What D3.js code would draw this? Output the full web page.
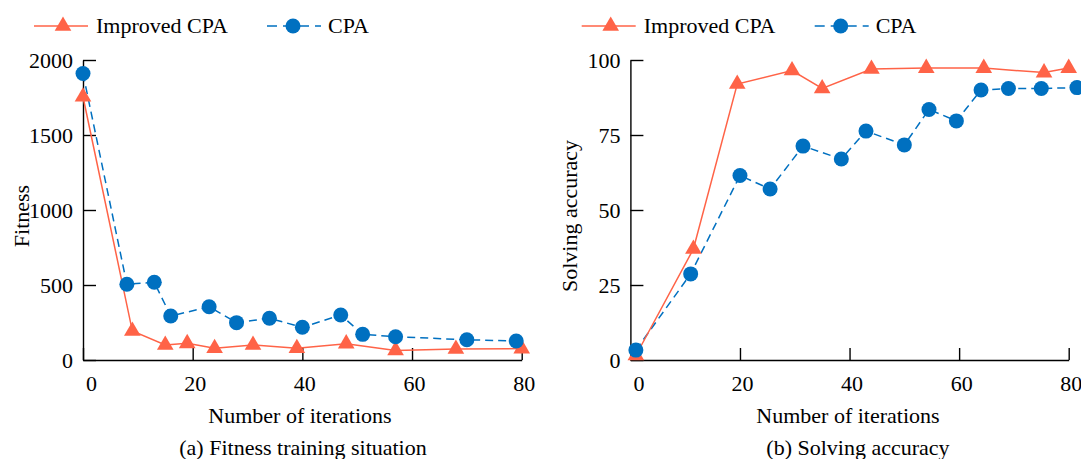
<!DOCTYPE html>
<html>
<head>
<meta charset="utf-8">
<script src="https://cdn.jsdelivr.net/npm/d3@7"></script>
<style>
  body { margin: 0; background: #fff; }
  svg, svg text { font-family: "Liberation Serif", "Times New Roman", serif; }
</style>
</head>
<body>
<div class="viz"></div>
<script>
// data
const seriesNames = ["Improved CPA", "CPA"];

// (a) fitness
const fitImprovedIter = [0, 9, 15, 19, 24, 31, 39, 48, 57, 68, 80];
const fitImproved = [1755, 193, 100, 111, 78, 100, 78, 109, 64, 73, 76];
const fitCpaIter = [0, 8, 13, 16, 23, 28, 34, 40, 47, 51, 57, 70, 79];
const fitCpa = [1910, 505, 518, 293, 355, 249, 278, 218, 300, 171, 155, 135, 127];

// (b) solving accuracy
const accImprovedIter = [1, 11.5, 19.5, 29.5, 35, 44, 54, 64.5, 75.5, 80];
const accImproved = [1.5, 37, 92, 96.5, 90.5, 97, 97.3, 97.3, 95.8, 97.3];
const accCpaIter = [1, 11, 20, 25.5, 31.5, 38.5, 43, 50, 54.5, 59.5, 64, 69, 75, 81.5];
const accCpa = [3.3, 28.7, 61.5, 57, 71.3, 67, 76.3, 71.7, 83.5, 79.7, 90, 90.5, 90.5, 90.8];

const xTicks = [0, 20, 40, 60, 80];
const fitTicks = [0, 500, 1000, 1500, 2000];
const accTicks = [0, 25, 50, 75, 100];

const red = "#ff6347", blue = "#0070c0";
const fontSize = 22;
const serif = '"Liberation Serif", "Times New Roman", serif';

const svg = d3.select(".viz")
  .append("svg")
  .attr("width", 1081)
  .attr("height", 459);

const triangle = d3.symbol().type(d3.symbolTriangle).size(120);

function drawPanel(opt) {
  const x = d3.scaleLinear().domain([0, 80]).range([opt.left, opt.right]);
  const y = d3.scaleLinear().domain(opt.yDomain).range([360, 60]);

  // legend
  const lg = svg.append("g");
  lg.append("line")
    .attr("x1", opt.legX).attr("x2", opt.legX + 54)
    .attr("y1", 26).attr("y2", 26)
    .attr("stroke", red).attr("stroke-width", 1.5);
  lg.append("path")
    .attr("d", triangle())
    .attr("transform", `translate(${opt.legX + 29},26)`)
    .attr("fill", red);
  lg.append("text")
    .attr("x", opt.legX + 62).attr("y", 33)
    .attr("font-size", fontSize)
    .text(seriesNames[0]);
  lg.append("line")
    .attr("x1", opt.legX + 233).attr("x2", opt.legX + 287)
    .attr("y1", 26).attr("y2", 26)
    .attr("stroke", blue).attr("stroke-width", 1.5)
    .attr("stroke-dasharray", "10,6");
  lg.append("circle")
    .attr("cx", opt.legX + 259).attr("cy", 26).attr("r", 7.5)
    .attr("fill", blue);
  lg.append("text")
    .attr("x", opt.legX + 294).attr("y", 33)
    .attr("font-size", fontSize)
    .text(seriesNames[1]);

  // X axis
  const xa = svg.append("g")
    .attr("transform", "translate(0,360)")
    .call(d3.axisBottom(x).tickValues(xTicks).tickFormat(d3.format("d"))
      .tickSizeInner(-12).tickSizeOuter(0).tickPadding(15));
  xa.selectAll("text")
    .style("font-size", fontSize + "px")
    .style("font-family", serif)
    .attr("fill", "#000")
    .attr("dx", (d) => d === 0 ? 8 : 2);

  // Y axis
  const ya = svg.append("g")
    .attr("transform", `translate(${opt.left},0)`)
    .call(d3.axisLeft(y).tickValues(opt.yTicks).tickFormat(d3.format("d"))
      .tickSizeInner(-13).tickSizeOuter(0).tickPadding(10));
  ya.selectAll("text")
    .style("font-size", fontSize + "px")
    .style("font-family", serif)
    .attr("fill", "#000");
  svg.selectAll(".domain, .tick line").attr("stroke", "#000").attr("stroke-width", 1.4);

  // axis titles
  svg.append("text")
    .attr("x", opt.xTitleX).attr("y", 423)
    .attr("text-anchor", "middle")
    .attr("font-size", fontSize)
    .text("Number of iterations");
  svg.append("text")
    .attr("x", opt.subX).attr("y", 455)
    .attr("text-anchor", "middle")
    .attr("font-size", fontSize)
    .text(opt.sub);
  svg.append("text")
    .attr("transform", `translate(${opt.yTitleX},216)rotate(-90)`)
    .attr("text-anchor", "middle")
    .attr("font-size", fontSize)
    .text(opt.yTitle);

  // lines
  const line = d3.line().x(d => x(d[0])).y(d => y(d[1]));
  const imp = d3.zip(opt.impX, opt.impY);
  const cpa = d3.zip(opt.cpaX, opt.cpaY);

  svg.append("path")
    .datum(cpa)
    .attr("d", line)
    .attr("fill", "none")
    .attr("stroke", blue)
    .attr("stroke-width", 1.5)
    .attr("stroke-dasharray", "8,5");
  svg.append("path")
    .datum(imp)
    .attr("d", line)
    .attr("fill", "none")
    .attr("stroke", red)
    .attr("stroke-width", 1.5);

  svg.append("g").selectAll("path")
    .data(imp)
    .enter()
    .append("path")
    .attr("d", triangle())
    .attr("transform", d => `translate(${x(d[0])},${y(d[1])})`)
    .attr("fill", red);
  svg.append("g").selectAll("circle")
    .data(cpa)
    .enter()
    .append("circle")
    .attr("cx", d => x(d[0]))
    .attr("cy", d => y(d[1]))
    .attr("r", 7.5)
    .attr("fill", blue);
}

drawPanel({
  left: 83, right: 521.7, yDomain: [0, 2000], yTicks: fitTicks,
  legX: 34, xTitleX: 300, subX: 303, yTitleX: 29,
  sub: "(a) Fitness training situation", yTitle: "Fitness",
  impX: fitImprovedIter, impY: fitImproved, cpaX: fitCpaIter, cpaY: fitCpa
});

drawPanel({
  left: 630.4, right: 1068.7, yDomain: [0, 100], yTicks: accTicks,
  legX: 581.7, xTitleX: 848, subX: 858, yTitleX: 577,
  sub: "(b) Solving accuracy", yTitle: "Solving accuracy",
  impX: accImprovedIter, impY: accImproved, cpaX: accCpaIter, cpaY: accCpa
});
</script>
</body>
</html>
